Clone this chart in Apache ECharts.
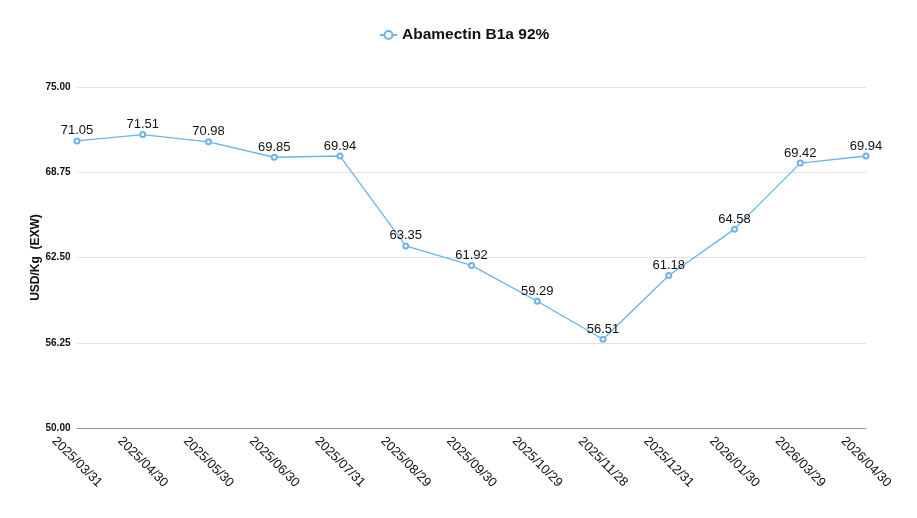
<!DOCTYPE html>
<html><head><meta charset="utf-8">
<script src="https://cdn.jsdelivr.net/npm/echarts@6/dist/echarts.min.js"></script>
<style>html,body{margin:0;padding:0;background:#fff}#c{width:917px;height:518px}</style>
</head><body><div id="c"></div>
<script>
const categories = ["2025/03/31","2025/04/30","2025/05/30","2025/06/30","2025/07/31","2025/08/29","2025/09/30","2025/10/29","2025/11/28","2025/12/31","2026/01/30","2026/03/29","2026/04/30"];
const values = [71.05,71.51,70.98,69.85,69.94,63.35,61.92,59.29,56.51,61.18,64.58,69.42,69.94];
const seriesName = "Abamectin B1a 92%";
const yTicks = [50, 56.25, 62.5, 68.75, 75];

const chart = echarts.init(document.getElementById('c'));
chart.setOption({
  animation:false,
  legend:{top:22,left:374,itemWidth:17,itemHeight:10,itemGap:8,
    textStyle:{fontFamily:'Liberation Sans, Arial',fontSize:15.5,fontWeight:'bold',color:'#111'},
    data:[{name:seriesName}]},
  grid:{left:77,right:51,top:87,bottom:90},
  xAxis:{type:'category',data:categories,boundaryGap:false,
    axisLine:{lineStyle:{color:'#999'}},axisTick:{show:false},
    axisLabel:{rotate:-45,interval:0,color:'#111',fontSize:13,fontFamily:'Liberation Sans, Arial',margin:34,align:'center',verticalAlign:'middle'}},
  yAxis:{type:'value',min:50,max:75,interval:6.25,
    name:'USD/Kg  (EXW)',nameLocation:'middle',nameGap:35,nameRotate:90,nameMoveOverlap:false,
    nameTextStyle:{fontFamily:'Liberation Sans, Arial',fontSize:12,fontWeight:'bold',color:'#111'},
    axisLine:{show:false},axisTick:{show:false},
    splitLine:{lineStyle:{color:'#e2e2e2'}},
    axisLabel:{formatter:v=>v.toFixed(2),color:'#111',fontSize:10,fontWeight:'bold',fontFamily:'Liberation Sans, Arial',margin:19,align:'center'}},
  series:[{name:seriesName,type:'line',data:values,
    symbol:'emptyCircle',symbolSize:5,
    lineStyle:{color:'#6bb3ea',width:1.3},
    itemStyle:{color:'#6bb3ea'},
    label:{show:true,position:'top',distance:0,color:'#111',fontSize:13,fontFamily:'Liberation Sans, Arial',formatter:p=>p.value.toFixed(2)}}]
});
</script></body></html>
